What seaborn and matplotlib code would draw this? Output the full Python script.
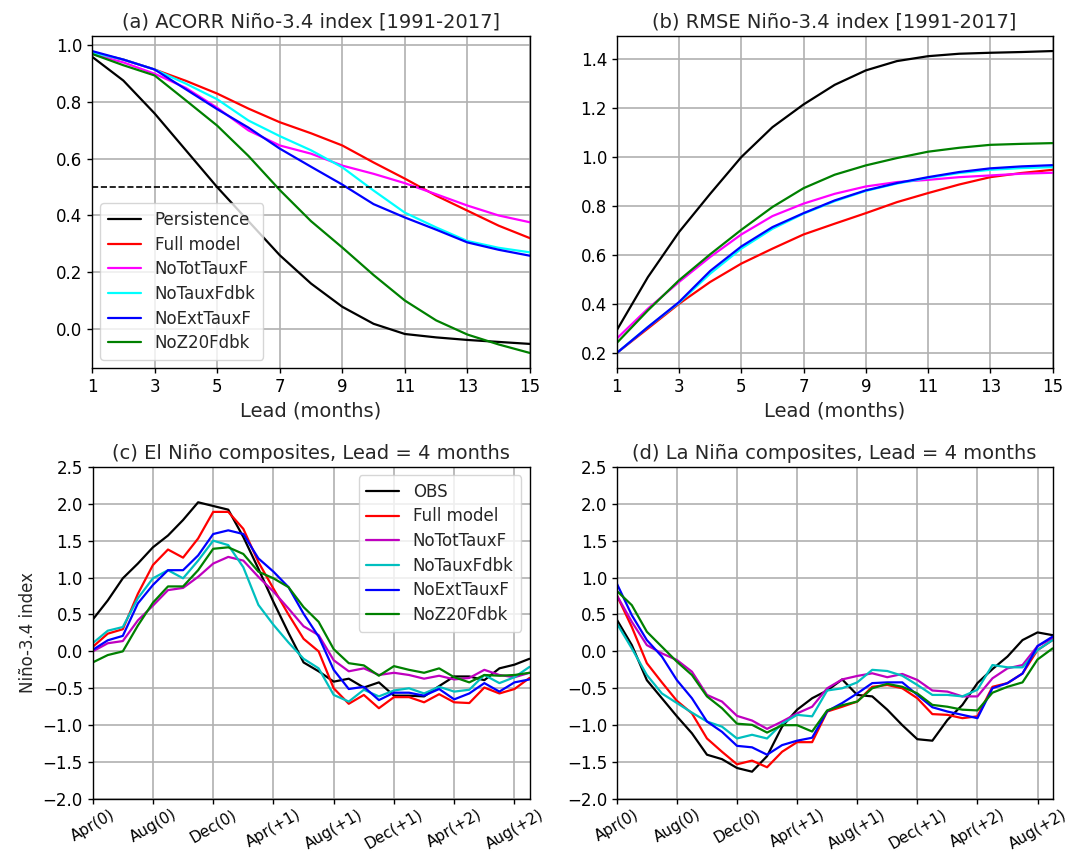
import numpy as np
import pandas as pd
import matplotlib
matplotlib.use('Agg')
import matplotlib.pyplot as plt
import seaborn as sns

# lead months for panels (a)/(b)
leads = list(range(1, 16))

# (a) ACORR
acorr_persist = [0.96, 0.876, 0.76, 0.63, 0.50, 0.38, 0.26, 0.16, 0.078, 0.018, -0.018, -0.03, -0.039, -0.046, -0.053]
acorr_full = [0.975, 0.95, 0.915, 0.875, 0.83, 0.777, 0.729, 0.69, 0.647, 0.587, 0.53, 0.47, 0.417, 0.364, 0.32]
acorr_nototx = [0.97, 0.94, 0.90, 0.85, 0.78, 0.70, 0.647, 0.618, 0.576, 0.547, 0.514, 0.475, 0.435, 0.40, 0.376]
acorr_notxfb = [0.975, 0.95, 0.915, 0.865, 0.81, 0.735, 0.68, 0.63, 0.57, 0.488, 0.41, 0.358, 0.31, 0.286, 0.27]
acorr_noext = [0.98, 0.95, 0.915, 0.845, 0.775, 0.71, 0.636, 0.572, 0.509, 0.44, 0.393, 0.35, 0.305, 0.279, 0.258]
acorr_noz20 = [0.97, 0.93, 0.894, 0.806, 0.717, 0.61, 0.49, 0.38, 0.287, 0.19, 0.10, 0.03, -0.02, -0.055, -0.085]

# (b) RMSE
rmse_persist = [0.293, 0.51, 0.694, 0.85, 1.0, 1.122, 1.215, 1.295, 1.354, 1.392, 1.412, 1.422, 1.426, 1.429, 1.433]
rmse_full = [0.20, 0.30, 0.401, 0.49, 0.565, 0.626, 0.684, 0.728, 0.771, 0.816, 0.853, 0.888, 0.918, 0.935, 0.948]
rmse_nototx = [0.259, 0.381, 0.49, 0.592, 0.684, 0.759, 0.81, 0.85, 0.88, 0.898, 0.907, 0.918, 0.925, 0.932, 0.936]
rmse_notxfb = [0.20, 0.306, 0.405, 0.524, 0.626, 0.707, 0.769, 0.82, 0.862, 0.892, 0.915, 0.935, 0.948, 0.955, 0.959]
rmse_noext = [0.20, 0.306, 0.408, 0.535, 0.635, 0.714, 0.771, 0.823, 0.864, 0.894, 0.918, 0.939, 0.954, 0.962, 0.967]
rmse_noz20 = [0.241, 0.374, 0.497, 0.603, 0.703, 0.796, 0.873, 0.928, 0.966, 0.996, 1.022, 1.038, 1.05, 1.054, 1.057]

# (c)/(d) composites, monthly from Apr(0)
months = list(range(30))
tick_pos = [0, 4, 8, 12, 16, 20, 24, 28]
tick_lab = ['Apr(0)', 'Aug(0)', 'Dec(0)', 'Apr(+1)', 'Aug(+1)', 'Dec(+1)', 'Apr(+2)', 'Aug(+2)']

el_obs = [0.43, 0.69, 0.99, 1.19, 1.41, 1.57, 1.78, 2.02, 1.97, 1.92, 1.55, 1.12, 0.67, 0.25, -0.15, -0.27,
          -0.41, -0.37, -0.49, -0.42, -0.60, -0.60, -0.61, -0.47, -0.34, -0.34, -0.39, -0.23, -0.18, -0.10]
el_full = [0.06, 0.24, 0.30, 0.78, 1.17, 1.38, 1.27, 1.53, 1.89, 1.89, 1.66, 1.21, 0.85, 0.50, 0.17, 0.0,
           -0.50, -0.71, -0.59, -0.77, -0.62, -0.62, -0.69, -0.58, -0.69, -0.70, -0.49, -0.57, -0.51, -0.36]
el_nototx = [0.0, 0.11, 0.14, 0.42, 0.62, 0.83, 0.86, 1.01, 1.19, 1.28, 1.23, 1.01, 0.81, 0.58, 0.34, 0.22,
             -0.12, -0.27, -0.23, -0.32, -0.29, -0.32, -0.37, -0.33, -0.38, -0.36, -0.25, -0.32, -0.35, -0.29]
el_notxfb = [0.11, 0.28, 0.33, 0.72, 0.99, 1.10, 0.99, 1.23, 1.50, 1.44, 1.14, 0.63, 0.36, 0.12, -0.10, -0.23,
             -0.59, -0.68, -0.52, -0.61, -0.53, -0.50, -0.57, -0.48, -0.545, -0.52, -0.32, -0.43, -0.35, -0.21]
el_noext = [0.02, 0.15, 0.21, 0.65, 0.90, 1.10, 1.10, 1.30, 1.59, 1.64, 1.59, 1.26, 1.08, 0.87, 0.51, 0.20,
            -0.25, -0.51, -0.48, -0.66, -0.56, -0.56, -0.60, -0.51, -0.65, -0.57, -0.43, -0.545, -0.42, -0.38]
el_noz20 = [-0.15, -0.05, 0.0, 0.35, 0.66, 0.88, 0.88, 1.10, 1.39, 1.41, 1.32, 1.08, 0.99, 0.87, 0.60, 0.40,
            0.03, -0.16, -0.19, -0.33, -0.20, -0.25, -0.29, -0.23, -0.35, -0.42, -0.32, -0.33, -0.32, -0.29]

la_obs = [0.43, 0.085, -0.39, -0.635, -0.88, -1.11, -1.40, -1.46, -1.58, -1.63, -1.42, -1.02, -0.79, -0.635, -0.53, -0.38,
          -0.59, -0.61, -0.79, -1.0, -1.19, -1.21, -0.93, -0.725, -0.43, -0.24, -0.07, 0.153, 0.257, 0.22]
la_full = [0.76, 0.33, -0.16, -0.42, -0.67, -0.84, -1.18, -1.36, -1.53, -1.48, -1.57, -1.36, -1.23, -1.23, -0.815, -0.75,
           -0.68, -0.48, -0.455, -0.50, -0.635, -0.85, -0.86, -0.905, -0.88, -0.48, -0.43, -0.30, 0.018, 0.153]
la_nototx = [0.76, 0.40, 0.085, -0.027, -0.117, -0.275, -0.59, -0.68, -0.874, -0.937, -1.05, -0.95, -0.84, -0.75, -0.50, -0.38,
             -0.333, -0.297, -0.35, -0.306, -0.387, -0.53, -0.545, -0.61, -0.61, -0.365, -0.23, -0.185, 0.072, 0.176]
la_notxfb = [0.38, 0.04, -0.32, -0.57, -0.70, -0.83, -0.95, -1.02, -1.18, -1.13, -1.18, -0.98, -0.86, -0.88, -0.53, -0.50,
             -0.42, -0.25, -0.266, -0.33, -0.455, -0.59, -0.59, -0.61, -0.52, -0.185, -0.216, -0.216, 0.018, 0.153]
la_noext = [0.92, 0.49, 0.153, -0.07, -0.39, -0.635, -0.95, -1.09, -1.28, -1.30, -1.40, -1.27, -1.21, -1.17, -0.81, -0.70,
            -0.57, -0.43, -0.42, -0.42, -0.59, -0.757, -0.815, -0.86, -0.905, -0.50, -0.43, -0.30, 0.072, 0.20]
la_noz20 = [0.82, 0.626, 0.266, 0.063, -0.14, -0.32, -0.61, -0.77, -0.98, -0.995, -1.10, -1.0, -1.0, -1.086, -0.80, -0.73,
            -0.68, -0.50, -0.44, -0.48, -0.57, -0.725, -0.75, -0.79, -0.80, -0.56, -0.48, -0.42, -0.11, 0.04]

names_ab = ['Persistence', 'Full model', 'NoTotTauxF', 'NoTauxFdbk', 'NoExtTauxF', 'NoZ20Fdbk']
names_cd = ['OBS', 'Full model', 'NoTotTauxF', 'NoTauxFdbk', 'NoExtTauxF', 'NoZ20Fdbk']
colors_ab = ['black', 'red', 'magenta', 'cyan', 'blue', 'green']
colors_cd = ['k', 'r', 'm', 'c', 'b', 'g']

sns.set_style('ticks')
plt.rcParams['font.family'] = ['DejaVu Sans']

fig = plt.figure(figsize=(10.84, 8.56), dpi=100)
ax_a = fig.add_axes([0.0849, 0.570, 0.404, 0.388])
ax_b = fig.add_axes([0.569, 0.570, 0.402, 0.388])
ax_c = fig.add_axes([0.0855, 0.0666, 0.403, 0.388])
ax_d = fig.add_axes([0.569, 0.0666, 0.402, 0.388])


def style_ax(ax):
    ax.grid(True, color='#b0b0b0', linewidth=1.2)
    ax.set_axisbelow(True)
    for s in ax.spines.values():
        s.set_visible(True)
        s.set_color('black')
        s.set_linewidth(1.0)
    ax.tick_params(labelsize=12, direction='out', length=3.5, width=1, colors='black')


# (a)
series_a = [acorr_persist, acorr_full, acorr_nototx, acorr_notxfb, acorr_noext, acorr_noz20]
for vals, name, col in zip(series_a, names_ab, colors_ab):
    sns.lineplot(x=leads, y=vals, color=col, label=name, lw=1.6, ax=ax_a)
ax_a.axhline(0.5, color='black', ls='--', lw=1.2)
ax_a.set_xlim(1, 15)
ax_a.set_xticks(range(1, 16, 2))
ax_a.set_xlabel('Lead (months)', fontsize=14)
ax_a.set_title('(a) ACORR Niño-3.4 index [1991-2017]', fontsize=14)
ax_a.legend(loc='lower left', fontsize=12, handlelength=2.0, borderpad=0.45, labelspacing=0.4)
style_ax(ax_a)

# (b)
series_b = [rmse_persist, rmse_full, rmse_nototx, rmse_notxfb, rmse_noext, rmse_noz20]
for vals, name, col in zip(series_b, names_ab, colors_ab):
    sns.lineplot(x=leads, y=vals, color=col, lw=1.6, ax=ax_b)
ax_b.set_xlim(1, 15)
ax_b.set_xticks(range(1, 16, 2))
ax_b.set_xlabel('Lead (months)', fontsize=14)
ax_b.set_title('(b) RMSE Niño-3.4 index [1991-2017]', fontsize=14)
style_ax(ax_b)

# (c) / (d)
series_c = [el_obs, el_full, el_nototx, el_notxfb, el_noext, el_noz20]
series_d = [la_obs, la_full, la_nototx, la_notxfb, la_noext, la_noz20]
for ax, series, title in [(ax_c, series_c, '(c) El Niño composites, Lead = 4 months'),
                          (ax_d, series_d, '(d) La Niña composites, Lead = 4 months')]:
    for vals, name, col in zip(series, names_cd, colors_cd):
        sns.lineplot(x=months, y=vals, color=col, label=name, lw=1.6, ax=ax)
    ax.set_xlim(0, 29)
    ax.set_ylim(-2.0, 2.5)
    ax.set_yticks(np.arange(-2.0, 2.51, 0.5))
    ax.set_xticks(tick_pos)
    ax.set_title(title, fontsize=14)
    style_ax(ax)
    ax.set_xticklabels(tick_lab, rotation=30, ha='center', fontsize=11)
    ax.tick_params(axis='x', pad=2)

ax_c.set_ylabel('Niño-3.4 index', fontsize=12)
ax_c.legend(loc='upper right', fontsize=12, handlelength=2.0, borderpad=0.45, labelspacing=0.4)
ax_d.get_legend().remove()

fig.savefig('out.png', dpi=100)
